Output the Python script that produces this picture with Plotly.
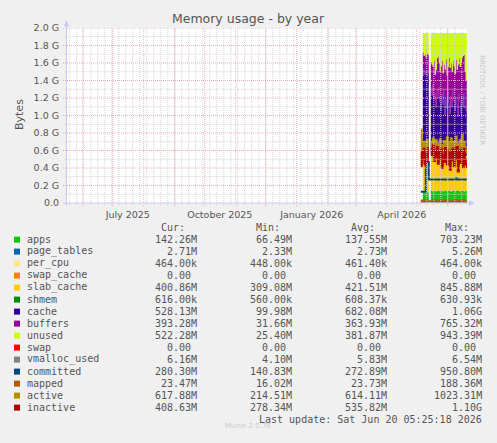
import pandas as pd
import plotly.graph_objects as go

# ---------- Data: daily averages in GiB, 2026-05-05 .. 2026-06-20 ----------
START, END = "2026-05-05", "2026-06-20"
days = pd.date_range(START, END, freq="D")

APPS = [None, None, 0.12, 0.13, 0.12, 0.13, 0.13, 0.12, None, None,
        0.14, 0.14, 0.13, 0.14, 0.14, 0.13, 0.14, 0.14, 0.14, 0.13,
        0.14, 0.14, 0.13, 0.14, 0.14, 0.14, 0.13, 0.14, 0.14, 0.14,
        0.13, 0.14, 0.14, 0.14, 0.13, 0.14, 0.14, 0.14, 0.14, 0.13,
        0.14, 0.14, 0.14, 0.13, 0.14, 0.14, 0.14]
PAGE_TABLES = [None, None, 0.0022, 0.0024, 0.0025, 0.0026, 0.0025, 0.0024, None, None,
               0.0025, 0.0026, 0.0025, 0.0026, 0.0025, 0.0026, 0.0025, 0.0026, 0.0025, 0.0026,
               0.0025, 0.0026, 0.0025, 0.0026, 0.0025, 0.0026, 0.0025, 0.0026, 0.0025, 0.0026,
               0.0025, 0.0026, 0.0025, 0.0026, 0.0025, 0.0026, 0.0025, 0.0026, 0.0025, 0.0026,
               0.0025, 0.0026, 0.0025, 0.0026, 0.0025, 0.0026, 0.0025]
PER_CPU = [None, None, 0.0004, 0.0004, 0.0004, 0.0004, 0.0004, 0.0004, None, None,
           0.0004, 0.0004, 0.0004, 0.0004, 0.0004, 0.0004, 0.0004, 0.0004, 0.0004, 0.0004,
           0.0004, 0.0004, 0.0004, 0.0004, 0.0004, 0.0004, 0.0004, 0.0004, 0.0004, 0.0004,
           0.0004, 0.0004, 0.0004, 0.0004, 0.0004, 0.0004, 0.0004, 0.0004, 0.0004, 0.0004,
           0.0004, 0.0004, 0.0004, 0.0004, 0.0004, 0.0004, 0.0004]
SLAB_CACHE = [None, None, 0.33, 0.35, 0.36, 0.34, 0.36, 0.37, None, None,
              0.42, 0.41, 0.43, 0.42, 0.41, 0.42, 0.43, 0.42, 0.41, 0.42,
              0.43, 0.42, 0.41, 0.42, 0.43, 0.42, 0.41, 0.42, 0.43, 0.42,
              0.41, 0.42, 0.43, 0.42, 0.41, 0.42, 0.43, 0.42, 0.41, 0.40,
              0.41, 0.42, 0.41, 0.40, 0.39, 0.39, 0.39]
SHMEM = [None, None, 0.0005, 0.0005, 0.0006, 0.0006, 0.0006, 0.0006, None, None,
         0.0006, 0.0006, 0.0006, 0.0006, 0.0006, 0.0006, 0.0006, 0.0006, 0.0006, 0.0006,
         0.0006, 0.0006, 0.0006, 0.0006, 0.0006, 0.0006, 0.0006, 0.0006, 0.0006, 0.0006,
         0.0006, 0.0006, 0.0006, 0.0006, 0.0006, 0.0006, 0.0006, 0.0006, 0.0006, 0.0006,
         0.0006, 0.0006, 0.0006, 0.0006, 0.0006, 0.0006, 0.0006]
CACHE = [None, None, 1.00, 1.05, 0.98, 1.02, 0.96, 0.99, None, None,
         0.74, 0.67, 0.79, 0.62, 0.70, 0.55, 0.71, 0.64, 0.77, 0.60,
         0.48, 0.68, 0.58, 0.74, 0.43, 0.62, 0.54, 0.70, 0.57, 0.46,
         0.68, 0.54, 0.71, 0.60, 0.51, 0.64, 0.55, 0.42, 0.69, 0.62,
         0.47, 0.66, 0.55, 0.72, 0.55, 0.52, 0.52]
BUFFERS = [None, None, 0.27, 0.15, 0.24, 0.17, 0.26, 0.21, None, None,
           0.31, 0.36, 0.20, 0.44, 0.21, 0.42, 0.37, 0.47, 0.28, 0.35,
           0.51, 0.38, 0.36, 0.28, 0.52, 0.46, 0.37, 0.29, 0.52, 0.52,
           0.38, 0.40, 0.34, 0.40, 0.42, 0.43, 0.40, 0.60, 0.41, 0.40,
           0.58, 0.44, 0.58, 0.44, 0.42, 0.35, 0.38]
UNUSED = [None, None, 0.22, 0.26, 0.24, 0.28, 0.23, 0.25, None, None,
          0.33, 0.36, 0.39, 0.32, 0.48, 0.42, 0.29, 0.27, 0.34, 0.44,
          0.38, 0.32, 0.46, 0.36, 0.42, 0.30, 0.49, 0.39, 0.28, 0.40,
          0.34, 0.44, 0.32, 0.38, 0.47, 0.31, 0.42, 0.36, 0.29, 0.39,
          0.34, 0.28, 0.26, 0.25, 0.44, 0.54, 0.51]

VMALLOC = [0.006, 0.006, 0.006, 0.006, 0.006, 0.006, 0.006, 0.006, None, None,
           0.006, 0.006, 0.006, 0.006, 0.006, 0.006, 0.006, 0.006, 0.006, 0.006,
           0.006, 0.006, 0.006, 0.006, 0.006, 0.006, 0.006, 0.006, 0.006, 0.006,
           0.006, 0.006, 0.006, 0.006, 0.006, 0.006, 0.006, 0.006, 0.006, 0.006,
           0.006, 0.006, 0.006, 0.006, 0.006, 0.006, 0.006]
COMMITTED = [0.13, 0.13, 0.13, 0.13, 0.13, 0.47, 0.47, 0.47, 0.27, 0.27,
             0.27, 0.27, 0.27, 0.27, 0.27, 0.27, 0.27, 0.27, 0.27, 0.27,
             0.27, 0.27, 0.27, 0.27, 0.27, 0.27, 0.27, 0.27, 0.27, 0.27,
             0.27, 0.27, 0.27, 0.27, 0.27, 0.28, 0.27, 0.27, 0.27, 0.27,
             0.27, 0.27, 0.27, 0.27, 0.27, 0.27, 0.27]
MAPPED = [0.03, 0.02, 0.02, 0.03, 0.02, 0.02, 0.03, 0.02, 0.02, 0.02,
          0.02, 0.02, 0.02, 0.03, 0.02, 0.02, 0.02, 0.02, 0.02, 0.02,
          0.02, 0.02, 0.02, 0.02, 0.03, 0.02, 0.02, 0.02, 0.02, 0.02,
          0.02, 0.02, 0.02, 0.02, 0.03, 0.035, 0.03, 0.02, 0.02, 0.02,
          0.02, 0.02, 0.03, 0.02, 0.02, 0.02, 0.02]
ACTIVE = [0.84, 0.45, 0.62, 0.70, 0.58, 0.66, 0.72, 0.60, None, None,
          0.70, 0.62, 0.74, 0.66, 0.58, 0.72, 0.64, 0.55, 0.68, 0.73,
          0.60, 0.52, 0.66, 0.71, 0.58, 0.64, 0.75, 0.62, 0.56, 0.69,
          0.74, 0.63, 0.57, 0.70, 0.66, 0.76, 0.61, 0.68, 0.55, 0.72,
          0.65, 0.78, 0.60, 0.70, 0.64, 0.58, 0.60]
INACTIVE = [0.42, 0.58, 0.50, 0.62, 0.44, 0.55, 0.48, 0.64, None, None,
            0.62, 0.55, 0.66, 0.48, 0.60, 0.52, 0.64, 0.45, 0.58, 0.50,
            0.62, 0.40, 0.55, 0.47, 0.63, 0.52, 0.44, 0.60, 0.54, 0.38,
            0.57, 0.49, 0.62, 0.42, 0.56, 0.50, 0.64, 0.36, 0.53, 0.60,
            0.46, 0.58, 0.41, 0.62, 0.50, 0.44, 0.40]

# ---------- Legend table ----------
NAMES = ["apps", "page_tables", "per_cpu", "swap_cache", "slab_cache", "shmem", "cache",
         "buffers", "unused", "swap", "vmalloc_used", "committed", "mapped", "active", "inactive"]
COLORS = ["#00CC00", "#0066B3", "#FFE680", "#FF8000", "#FFCC00", "#008F00", "#330099",
          "#990099", "#CCFF00", "#FF0000", "#808080", "#00487D", "#B35A00", "#B38F00", "#B30000"]
CUR = ["142.26M", "2.71M", "464.00k", "0.00 ", "400.86M", "616.00k", "528.13M", "393.28M",
       "522.28M", "0.00 ", "6.16M", "280.30M", "23.47M", "617.88M", "408.63M"]
MIN = ["66.49M", "2.33M", "448.00k", "0.00 ", "309.08M", "560.00k", "99.98M", "31.66M",
       "25.40M", "0.00 ", "4.10M", "140.83M", "16.02M", "214.51M", "278.34M"]
AVG = ["137.55M", "2.73M", "461.40k", "0.00 ", "421.51M", "608.37k", "682.08M", "363.93M",
       "381.87M", "0.00 ", "5.83M", "272.89M", "23.73M", "614.11M", "535.82M"]
MAX = ["703.23M", "5.26M", "464.00k", "0.00 ", "845.88M", "630.93k", "1.06G", "765.32M",
       "943.39M", "0.00 ", "6.54M", "950.80M", "188.36M", "1023.31M", "1.10G"]

X_RANGE = ["2025-05-16 05:25", "2026-06-20 05:25"]
XLABEL_POS = ["2025-07-16", "2025-10-16", "2026-01-16", "2026-04-16"]
XLABELS = ["July 2025", "October 2025", "January 2026", "April 2026"]
YTICKS = [0.0, 0.2, 0.4, 0.6, 0.8, 1.0, 1.2, 1.4, 1.6, 1.8, 2.0]
YLABELS = ["0.0", "0.2 G", "0.4 G", "0.6 G", "0.8 G", "1.0 G", "1.2 G", "1.4 G", "1.6 G", "1.8 G", "2.0 G"]

# ---------- Geometry (pixels) ----------
W, H = 497, 443
ML, MR, MT, MB = 67, 30, 28, 240
PW, PH = W - ML - MR, H - MT - MB
TEXT = "#555555"
MAJOR = "#eab0b0"
MINOR = "#d2d2d2"
AXIS = "#c8c8f4"


def px(x):
    return (x - ML) / PW


def py(y):
    return (MT + PH - y) / PH


fig = go.Figure()

areas = [("apps", APPS), ("page_tables", PAGE_TABLES), ("per_cpu", PER_CPU),
         ("slab_cache", SLAB_CACHE), ("shmem", SHMEM), ("cache", CACHE),
         ("buffers", BUFFERS), ("unused", UNUSED)]
for name, vals in areas:
    c = COLORS[NAMES.index(name)]
    fig.add_trace(go.Scatter(
        x=days, y=[0 if v is None else v for v in vals], name=name,
        mode="lines", stackgroup="mem", line=dict(width=0, shape="hv", color=c),
        fillcolor=c))

lines = [("vmalloc_used", VMALLOC), ("committed", COMMITTED), ("mapped", MAPPED),
         ("active", ACTIVE), ("inactive", INACTIVE)]
for name, vals in lines:
    c = COLORS[NAMES.index(name)]
    fig.add_trace(go.Scatter(
        x=days, y=vals, name=name, mode="lines",
        line=dict(width=2, shape="hv", color=c), connectgaps=False))

# grid drawn above the data, like rrdtool
shapes = []
dots = "1px,1px"
for d in pd.date_range("2025-05-19", "2026-06-15", freq="7D"):
    shapes.append(dict(type="line", xref="x", yref="paper", x0=d, x1=d, y0=-2 / PH, y1=1,
                       line=dict(color=MINOR, width=1, dash=dots), layer="above"))
for d in pd.date_range("2025-06-01", "2026-06-01", freq="MS"):
    shapes.append(dict(type="line", xref="x", yref="paper", x0=d, x1=d, y0=-3 / PH, y1=1,
                       line=dict(color=MAJOR, width=1, dash=dots), layer="above"))
for i in range(1, 21):
    v = i / 10
    major = i % 2 == 0
    shapes.append(dict(type="line", xref="paper", yref="y", x0=px(63 if major else 64.5), x1=1,
                       y0=v, y1=v, line=dict(color=MAJOR if major else MINOR, width=1, dash=dots),
                       layer="above"))
# axes with arrows
shapes.append(dict(type="line", xref="paper", yref="paper", x0=px(66.5), x1=px(66.5),
                   y0=py(206), y1=py(24), line=dict(color=AXIS, width=1), layer="above"))
shapes.append(dict(type="line", xref="paper", yref="paper", x0=px(63), x1=px(470),
                   y0=py(203), y1=py(203), line=dict(color=AXIS, width=1), layer="above"))
shapes.append(dict(type="path", xref="paper", yref="paper", layer="above",
                   path=f"M {px(63.8)},{py(26.5)} L {px(69.2)},{py(26.5)} L {px(66.5)},{py(20.5)} Z",
                   fillcolor=AXIS, line=dict(width=0)))
shapes.append(dict(type="path", xref="paper", yref="paper", layer="above",
                   path=f"M {px(469)},{py(200.3)} L {px(469)},{py(205.7)} L {px(475)},{py(203)} Z",
                   fillcolor=AXIS, line=dict(width=0)))

# legend table
mono = dict(family="DejaVu Sans Mono", size=10, color=TEXT)
ann = []
for label, xr in [("Cur:", 186), ("Min:", 281), ("Avg:", 376), ("Max:", 470)]:
    ann.append(dict(text=label, x=px(xr), y=py(227.3), xanchor="right"))
for i, name in enumerate(NAMES):
    ry = 239.3 + 12 * i
    shapes.append(dict(type="rect", xref="paper", yref="paper", x0=px(14), x1=px(20),
                       y0=py(ry - 2.7), y1=py(ry + 3.3), fillcolor=COLORS[i], line=dict(width=0)))
    ann.append(dict(text=name, x=px(26), y=py(ry), xanchor="left"))
    for col, xr in [(CUR, 198), (MIN, 293), (AVG, 388), (MAX, 483)]:
        ann.append(dict(text=col[i].replace(" ", "\u00a0"), x=px(xr), y=py(ry), xanchor="right"))
ann.append(dict(text="Last update: Sat Jun 20 05:25:18 2026", x=px(483), y=py(419.3), xanchor="right"))
for a in ann:
    a.update(xref="paper", yref="paper", yanchor="middle", showarrow=False, borderpad=0, font=mono)

ann.append(dict(text="Munin 2.0.76", x=px(248), y=py(432.3), xref="paper", yref="paper",
                showarrow=False, font=dict(family="DejaVu Sans", size=7, color="#cccccc")))
ann.append(dict(text="RRDTOOL / TOBI OETIKER", x=px(488), y=py(53), xref="paper", yref="paper",
                textangle=90, showarrow=False, font=dict(family="DejaVu Sans", size=7, color="#c8c8c8")))
ann.append(dict(text="Bytes", x=px(10.5), y=py(115), xref="paper", yref="paper", textangle=-90,
                showarrow=False, font=dict(family="DejaVu Sans", size=11, color=TEXT)))

fig.update_layout(
    width=W, height=H, autosize=False,
    margin=dict(l=ML, r=MR, t=MT, b=MB, pad=0),
    paper_bgcolor="#f0f0f0", plot_bgcolor="#ffffff",
    showlegend=False,
    title=dict(text="Memory usage - by year", x=248 / W, xref="container", xanchor="center",
               y=1 - 19 / H, yref="container", yanchor="middle",
               font=dict(family="DejaVu Sans", size=12.5, color=TEXT)),
    xaxis=dict(type="date", range=X_RANGE, showgrid=False, zeroline=False, showline=False,
               tickmode="array", tickvals=XLABEL_POS, ticktext=XLABELS,
               ticks="outside", ticklen=3, tickcolor="rgba(0,0,0,0)",
               tickfont=dict(family="DejaVu Sans", size=9.5, color=TEXT)),
    yaxis=dict(range=[0, 2.0], showgrid=False, zeroline=False, showline=False,
               tickmode="array", tickvals=YTICKS, ticktext=YLABELS,
               ticks="outside", ticklen=5, tickcolor="rgba(0,0,0,0)",
               tickfont=dict(family="DejaVu Sans", size=9.5, color=TEXT)),
    shapes=shapes, annotations=ann,
)

# the page body has a default margin; drop it so the chart sits at (0, 0)
fig.write_html("out.html", config={"displayModeBar": False},
               post_script="document.body.style.margin='0';")
